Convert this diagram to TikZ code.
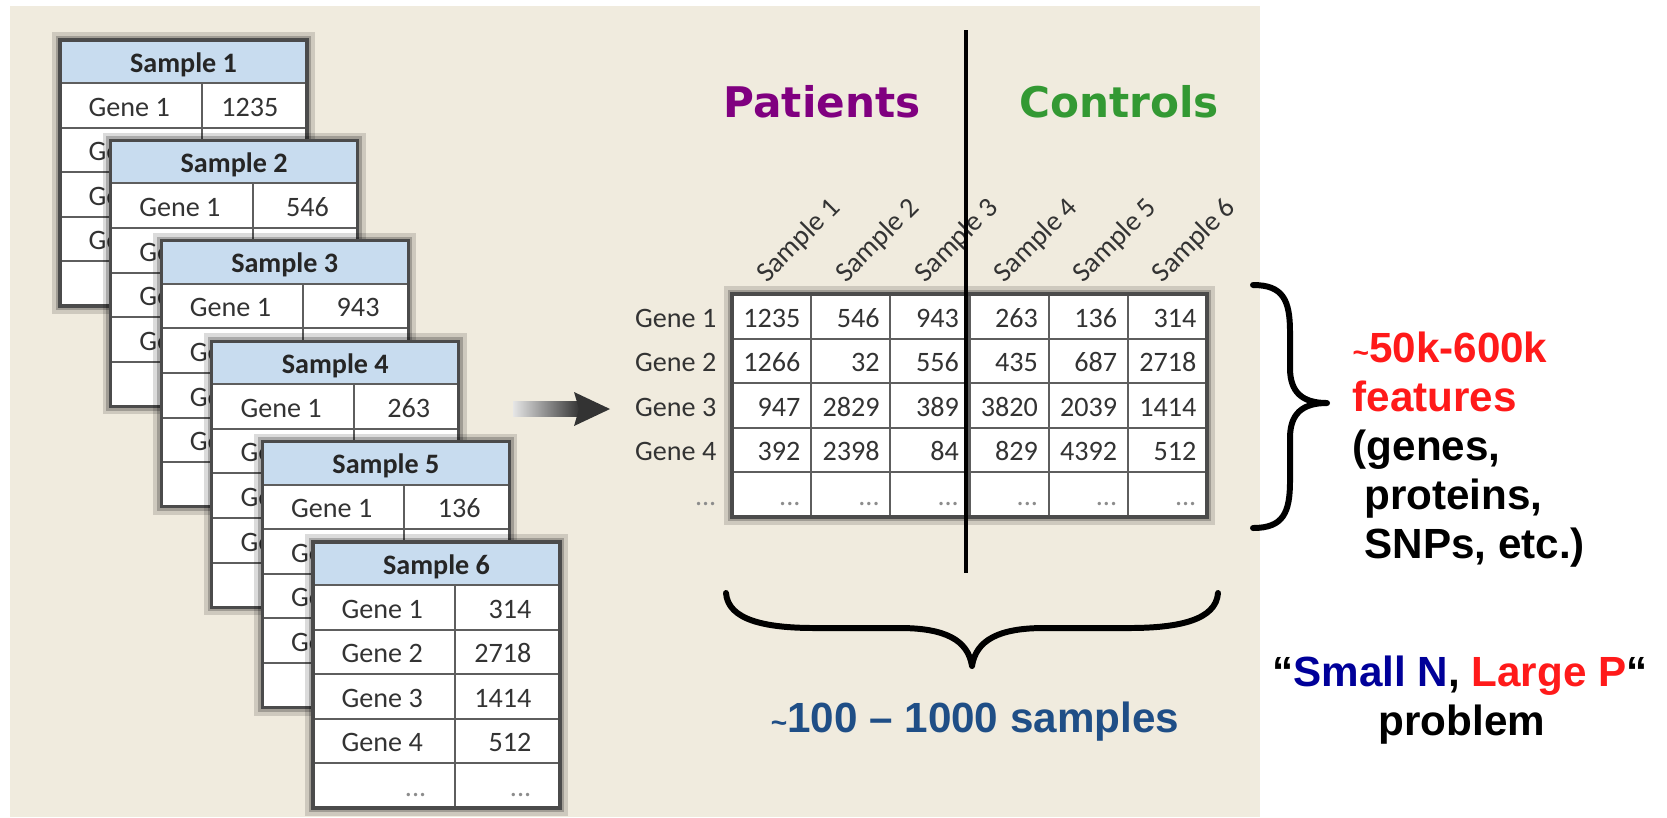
\documentclass[tikz,border=0pt]{standalone}
\usepackage{fontspec}
\setmainfont{Liberation Sans}
\newfontfamily\tablefont{Carlito}
\newfontfamily\groupfont{DejaVu Sans}
\usetikzlibrary{calc}

\definecolor{bgbeige}{HTML}{F0EBDE}
\definecolor{headblue}{HTML}{C8DCEF}
\definecolor{patpurple}{HTML}{800080}
\definecolor{ctrlgreen}{HTML}{339933}
\definecolor{countblue}{HTML}{1F4E86}
\definecolor{smallblue}{HTML}{000099}
\definecolor{largered}{HTML}{FF1A1A}
\definecolor{cellink}{HTML}{333333}
\definecolor{gridgray}{HTML}{5E5E5E}

\newcommand*{\smtilde}{{\fontsize{8}{8}\selectfont\textasciitilde}}

\tikzstyle{cell} = [font=\tablefont\fontsize{8}{9.6}\selectfont, text=cellink, inner sep=0pt]
\tikzstyle{dots} = [cell, text=black!45]
\tikzstyle{samplehead} = [font=\tablefont\bfseries\fontsize{8}{9.6}\selectfont, text=black!85, inner sep=0pt]
\tikzstyle{gridline} = [draw=gridgray, line width=0.6pt]
\tikzstyle{tableborder} = [draw=gridgray!80!black, line width=0.9pt]
\tikzstyle{halo} = [preaction={draw=black, line width=4.5pt, opacity=0.14}, preaction={draw=black, line width=2.4pt, opacity=0.22}]
\tikzstyle{grouplabel} = [font=\groupfont\bfseries\fontsize{12}{14}\selectfont, inner sep=0pt]
\tikzstyle{bigtext} = [font=\bfseries\fontsize{12}{14}\selectfont, inner sep=0pt]
\tikzstyle{bracepen} = [line width=1.7pt, line cap=round, line join=round]

\begin{document}
\begin{tikzpicture}[x=0.01cm, y=-0.01cm]
  \useasboundingbox (0,0) rectangle (1667,817);
  \fill[bgbeige] (10,6) rectangle (1260,817);

  % stack of sample tables (only the last one is seen whole)
  \foreach \i/\va/\vb/\vc/\vd in {1/1235/1266/947/392, 2/546/32/2829/2398, 3/943/556/389/84,
                                  4/263/435/3820/829, 5/136/687/2039/4392, 6/314/2718/1414/512} {
    \begin{scope}[shift={({60+50.6*(\i-1)},{40+100.4*(\i-1)})}]
      \path[fill=white, halo] (0,0) rectangle (247,266);
      \fill[headblue] (0,0) rectangle (247,43);
      \foreach \yy in {43,87.6,132.2,176.8,221.4} \draw[gridline] (0,\yy) -- (247,\yy);
      \draw[gridline] (142,43) -- (142,266);
      \draw[tableborder] (0,0) rectangle (247,266);
      \node[samplehead, anchor=base] (s\i-head) at (123.5,32) {Sample \i};
      \node[cell, anchor=base west] (s\i-g1) at (28,76) {Gene 1};
      \node[cell, anchor=base east] (s\i-v1) at (219,76) {\va};
      \ifnum\i=6
        \foreach \g/\v [count=\r from 1] in {2/\vb, 3/\vc, 4/\vd} {
          \node[cell, anchor=base west] (s\i-g\g) at (28,{76+44.6*\r}) {Gene \g};
          \node[cell, anchor=base east] (s\i-v\g) at (219,{76+44.6*\r}) {\v};
        }
        \node[dots, anchor=base east] (s\i-gdots) at (114,254) {...};
        \node[dots, anchor=base east] (s\i-vdots) at (219,254) {...};
      \else
        \begin{scope}
          \clip (0,87.6) rectangle (50.6,266);
          \foreach \g [count=\r from 1] in {2,3,4}
            \node[cell, anchor=base west] (s\i-g\g) at (28,{76+44.6*\r}) {Gene \g};
        \end{scope}
      \fi
    \end{scope}
  }

  % arrow from the stack to the matrix
  \coordinate (arrowtail) at (513,409);
  \coordinate (arrowtip) at (610,409);
  \shade[left color=black!10, right color=black!80] ($(arrowtail)+(0,-7.5)$) rectangle ($(arrowtip)+(-30,7.5)$);
  \fill[black!80] ($(arrowtip)+(-36,-17)$) -- (arrowtip) -- ($(arrowtip)+(-36,17)$) -- ($(arrowtip)+(-31,0)$) -- cycle;

  % combined matrix
  \begin{scope}[shift={(732,294)}]
    \path[fill=white, halo] (0,0) rectangle (475,223);
    \foreach \yy in {44.6,89.2,133.8,178.4} \draw[gridline] (0,\yy) -- (475,\yy);
    \foreach \xx in {79.17,158.33,237.5,316.67,395.83} \draw[gridline] (\xx,0) -- (\xx,223);
    \draw[tableborder] (0,0) rectangle (475,223);
    \foreach \c in {1,...,6}
      \node[cell, rotate=45, anchor=base west] (col\c) at ({79.17*\c-44.6},-10) {Sample \c};
    \foreach \r/\vals in {1/{1235,546,943,263,136,314}, 2/{1266,32,556,435,687,2718},
                          3/{947,2829,389,3820,2039,1414}, 4/{392,2398,84,829,4392,512}} {
      \node[cell, anchor=base east] (gene\r) at (-15,{44.6*\r-11.6}) {Gene \r};
      \foreach \v [count=\c] in \vals
        \node[cell, anchor=base east] (m\r-\c) at ({79.17*\c-10},{44.6*\r-11.6}) {\v};
    }
    \node[dots, anchor=base east] (genedots) at (-15,211.4) {...};
    \foreach \c in {1,...,6}
      \node[dots, anchor=base east] (mdots\c) at ({79.17*\c-10},211.4) {...};
  \end{scope}

  % patients / controls split
  \coordinate (splittop) at (966,30);
  \coordinate (splitbot) at (966,573);
  \draw[line width=1.1pt] (splittop) -- (splitbot);
  \node[grouplabel, text=patpurple, anchor=base] (patients) at (822,117) {Patients};
  \node[grouplabel, text=ctrlgreen, anchor=base] (controls) at (1119,117) {Controls};

  % braces
  \draw[bracepen] (1253,285) .. controls (1283,285) and (1290,300) .. (1290,332) -- (1290,368)
    .. controls (1290,392) and (1302,403) .. (1327,403) .. controls (1302,403) and (1290,414) .. (1290,438)
    -- (1290,481) .. controls (1290,513) and (1283,528) .. (1253,528);
  \draw[bracepen] (726,593) .. controls (728,620) and (765,628) .. (815,628) -- (900,628)
    .. controls (945,628) and (968,640) .. (972,666) .. controls (976,640) and (999,628) .. (1044,628)
    -- (1129,628) .. controls (1179,628) and (1216,620) .. (1218,593);

  % labels
  \node[bigtext, text=countblue, anchor=base] (samplecount) at (975,732) {\smtilde100 -- 1000 samples};
  \node[bigtext, text=largered, anchor=base west] (feat1) at (1352,362) {\smtilde50k-600k};
  \node[bigtext, text=largered, anchor=base west] (feat2) at (1352,411) {features};
  \node[bigtext, anchor=base west] (feat3) at (1352,460) {(genes,};
  \node[bigtext, anchor=base west] (feat4) at (1352,509) {\ proteins,};
  \node[bigtext, anchor=base west] (feat5) at (1352,558) {\ SNPs, etc.)};
  \node[bigtext, anchor=base] (smallnlargep) at (1460,686)
    {“\textcolor{smallblue}{Small N}, \textcolor{largered}{Large P}“};
  \node[bigtext, anchor=base] (problem) at (1462,735) {problem};
\end{tikzpicture}
\end{document}
